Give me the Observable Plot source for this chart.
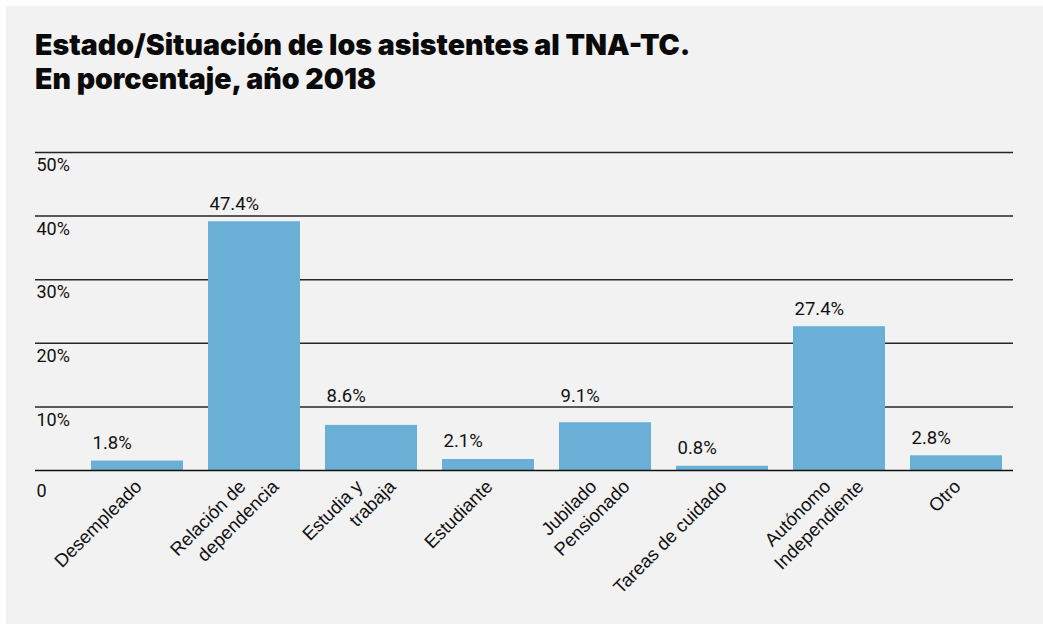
<!DOCTYPE html>
<html>
<head>
<meta charset="utf-8">
<script src="https://cdn.jsdelivr.net/npm/d3@7"></script>
<script src="https://cdn.jsdelivr.net/npm/@observablehq/plot@0.6"></script>
<style>
  html, body { margin: 0; padding: 0; background: #ffffff; }
  body { width: 1043px; height: 624px; position: relative; overflow: hidden; }
  #panel { position: absolute; left: 6px; top: 6px; right: 0; bottom: 0; background: #f2f2f2; }
  #title { position: absolute; left: 35px; top: 28px; font-family: Inter, "Noto Sans", sans-serif; font-weight: 900;
           font-size: 28.5px; line-height: 34px; color: #0a0a0a; letter-spacing: 0px; }
  #chart { position: absolute; left: 0; top: 130px; }
</style>
</head>
<body>
<div id="panel"></div>
<div id="title">Estado/Situación de los asistentes al TNA-TC.<br>En porcentaje, año 2018</div>
<div id="chart"></div>
<script>
const categories = ["Desempleado", "Relación de\ndependencia", "Estudia y\ntrabaja", "Estudiante",
                    "Jubilado\nPensionado", "Tareas de cuidado", "Autónomo\nIndependiente", "Otro"];
const values = [1.8, 47.4, 8.6, 2.1, 9.1, 0.8, 27.4, 2.8];
const valueLabels = ["1.8%", "47.4%", "8.6%", "2.1%", "9.1%", "0.8%", "27.4%", "2.8%"];
// gridlines as placed in the picture (in the bars' units)
const gridValues = [0, 12.12, 24.24, 36.36, 48.48, 60.6];
const gridLabels = ["0", "10%", "20%", "30%", "40%", "50%"];

const W = 1043, H = 494, MT = 22, MB = 154;
const yMax = gridValues[gridValues.length - 1];
const pxPerUnit = (H - MT - MB) / yMax;

const rows = categories.map((c, i) => ({
  cat: c, value: values[i], label: valueLabels[i],
  l1: c.split("\n")[0], l2: c.split("\n")[1] || null, multi: c.includes("\n")
}));
// a value label that would sit on a gridline is lifted just above that gridline
rows.forEach(r => {
  const top = r.value * pxPerUnit + 10, bottom = top + 16;
  const g = gridValues.find(v => v > 0 && v * pxPerUnit >= top && v * pxPerUnit <= bottom);
  r.liftTo = g === undefined ? null : g;
});
const grid = gridValues.map((v, i) => ({v, label: gridLabels[i]}));

const numFont = "Roboto, 'Liberation Sans', sans-serif";
const catFont = "'Liberation Sans', Arial, sans-serif";
const catSize = 18.5;

const plot = Plot.plot({
  width: W,
  height: H,
  marginLeft: 35,
  marginRight: 30,
  marginTop: MT,
  marginBottom: MB,
  style: {background: "transparent", overflow: "visible"},
  x: {type: "band", domain: categories, range: [64.7, 1028.4], padding: 0.216, axis: null},
  y: {domain: [0, yMax], axis: null},
  marks: [
    Plot.ruleY(grid.filter(d => d.v > 0), {y: "v", stroke: "#262626", strokeWidth: 1.5}),
    Plot.barY(rows, {x: "cat", y: "value", fill: "#6aafd6"}),
    Plot.ruleY([0], {stroke: "#111", strokeWidth: 1.6}),
    Plot.text(grid.filter(d => d.v > 0), {y: "v", text: "label", frameAnchor: "left", dx: 1, dy: 6,
      textAnchor: "start", lineAnchor: "top", fontSize: 18, fontFamily: numFont, fill: "#111"}),
    Plot.text(grid.filter(d => d.v === 0), {y: "v", text: "label", frameAnchor: "left", dx: 1, dy: 14,
      textAnchor: "start", lineAnchor: "top", fontSize: 18, fontFamily: numFont, fill: "#111"}),
    Plot.text(rows.filter(d => d.liftTo === null), {x: "cat", y: "value", text: "label", dx: -45, dy: -12,
      textAnchor: "start", lineAnchor: "bottom", fontSize: 18.5, fontFamily: numFont, fill: "#111"}),
    Plot.text(rows.filter(d => d.liftTo !== null), {x: "cat", y: "liftTo", text: "label", dx: -45, dy: -5,
      textAnchor: "start", lineAnchor: "bottom", fontSize: 18.5, fontFamily: numFont, fill: "#111"}),
    // single-line category labels
    Plot.text(rows.filter(d => !d.multi), {x: "cat", text: "l1", frameAnchor: "bottom", dx: -4, dy: 8,
      rotate: -45, textAnchor: "end", lineAnchor: "top", fontSize: catSize, fontFamily: catFont, fill: "#111"}),
    // two-line category labels: first line
    Plot.text(rows.filter(d => d.multi), {x: "cat", text: "l1", frameAnchor: "bottom", dx: -17, dy: 8,
      rotate: -45, textAnchor: "end", lineAnchor: "top", fontSize: catSize, fontFamily: catFont, fill: "#111"}),
    // two-line category labels: second line
    Plot.text(rows.filter(d => d.multi), {x: "cat", text: "l2", frameAnchor: "bottom", dx: 16, dy: 8,
      rotate: -45, textAnchor: "end", lineAnchor: "top", fontSize: catSize, fontFamily: catFont, fill: "#111"})
  ]
});
document.getElementById("chart").appendChild(plot);
</script>
</body>
</html>
